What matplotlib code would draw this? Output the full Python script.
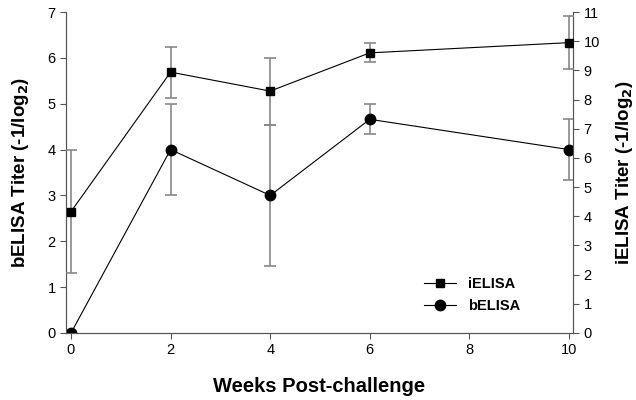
import matplotlib
matplotlib.use("Agg")
import matplotlib.pyplot as plt
from matplotlib.lines import Line2D

plt.rcParams['font.family'] = ['Liberation Sans', 'DejaVu Sans']

weeks = [0, 2, 4, 6, 10]
# bELISA on the left axis
belisa = [0, 4.0, 3.0, 4.66, 4.0]
belisa_err = [0, 1.0, 1.53, 0.33, 0.67]
# iELISA on the right axis
ielisa = [4.16, 8.94, 8.29, 9.6, 9.95]
ielisa_err = [2.1, 0.87, 1.15, 0.33, 0.9]

fig = plt.figure(figsize=(6.36, 4.0), dpi=100)
ax = fig.add_axes([66/636, 1-333/400, (573-66)/636, (333-12)/400])
ax2 = ax.twinx()

ax.errorbar(weeks, belisa, yerr=belisa_err, color='black', lw=0.8, marker='o', ms=7.5,
            ecolor='#888888', elinewidth=1.2, capsize=4, capthick=1.2, zorder=3)
ax2.errorbar(weeks, ielisa, yerr=ielisa_err, color='black', lw=0.8, marker='s', ms=6,
             ecolor='#888888', elinewidth=1.2, capsize=4, capthick=1.2, zorder=3)

ax.set_xlim(-0.1, 10.08)
ax.set_ylim(0, 7)
ax2.set_ylim(0, 11)
ax.set_xticks([0, 2, 4, 6, 8, 10])
ax.set_yticks(range(0, 8))
ax2.set_yticks(range(0, 12))

for a in (ax, ax2):
    a.spines['top'].set_visible(False)
    a.tick_params(labelsize=10.5, width=0.8, length=4, color='#555555')
    for s in a.spines.values():
        s.set_linewidth(0.8)
        s.set_color('#555555')

ax.set_xlabel('Weeks Post-challenge', fontsize=14.5, fontweight='bold', labelpad=14)
ax.set_ylabel('bELISA Titer (-1/log$_\\mathbf{2}$)', fontsize=13.5, fontweight='bold', labelpad=12)
ax2.set_ylabel('iELISA Titer (-1/log$_\\mathbf{2}$)', fontsize=13.5, fontweight='bold', labelpad=10)

handles = [Line2D([], [], color='black', lw=0.8, marker='s', ms=6),
           Line2D([], [], color='black', lw=0.8, marker='o', ms=7.5)]
ax2.legend(handles, ['iELISA', 'bELISA'], loc='lower left', bbox_to_anchor=(0.68, 0.02),
           frameon=False, prop={'weight': 'bold', 'size': 10.5}, handlelength=2.2,
           labelspacing=0.6)

fig.savefig('out.png', dpi=100)
